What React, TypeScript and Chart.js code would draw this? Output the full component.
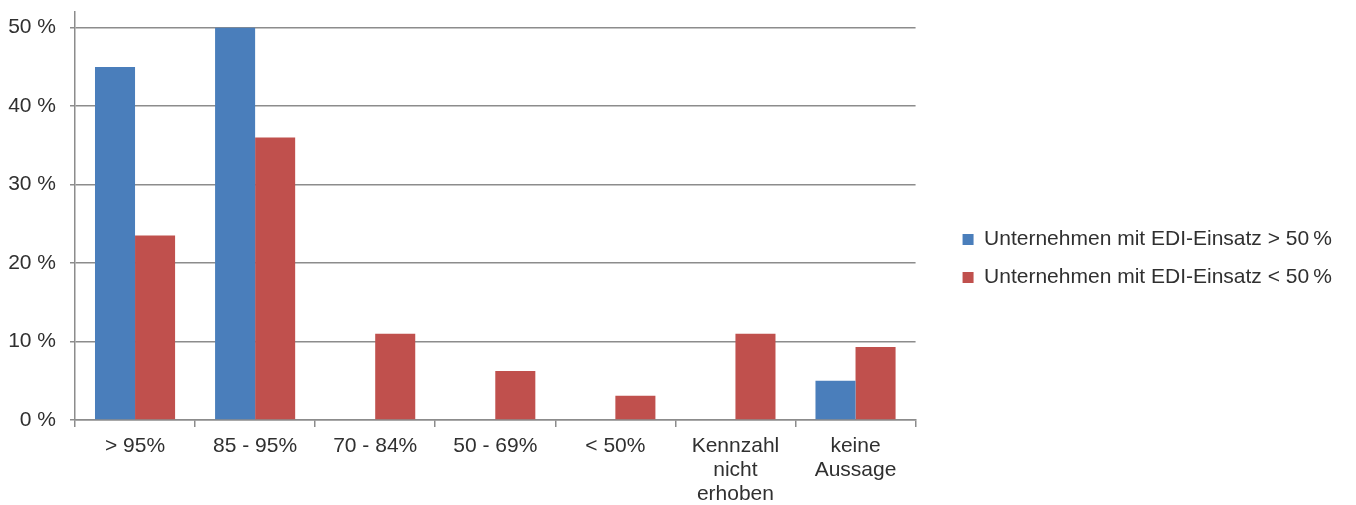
import React, { useEffect, useRef } from "react";
import { Chart, registerables } from "chart.js";

Chart.register(...registerables);

const categories: (string | string[])[] = [
  "> 95%",
  "85 - 95%",
  "70 - 84%",
  "50 - 69%",
  "< 50%",
  ["Kennzahl", "nicht", "erhoben"],
  ["keine", "Aussage"],
];

const seriesAbove = [45, 50, 0, 0, 0, 0, 5];
const seriesBelow = [23.5, 36, 11, 6.25, 3.1, 11, 9.3];

const seriesNames = [
  "Unternehmen mit EDI-Einsatz > 50\u2009%",
  "Unternehmen mit EDI-Einsatz < 50\u2009%",
];

const yTicks = [0, 10, 20, 30, 40, 50];

const FONT = "'Liberation Sans', Arial, sans-serif";
const TEXT = "#303030";
const GRID = "#8c8c8c";

// Pushes the legend to the right, leaving a gap between plot and legend.
const legendShift = {
  id: "legendShift",
  afterLayout(chart: any) {
    const lg = chart.legend;
    if (lg) {
      lg.left += 30;
      lg.right += 30;
    }
  },
};

export default function App() {
  const ref = useRef<HTMLCanvasElement | null>(null);

  useEffect(() => {
    if (!ref.current) return;
    const chart = new Chart(ref.current, {
      type: "bar",
      data: {
        labels: categories,
        datasets: [
          {
            label: seriesNames[0],
            data: seriesAbove,
            backgroundColor: "#4A7EBB",
            categoryPercentage: 0.667,
            barPercentage: 1,
          },
          {
            label: seriesNames[1],
            data: seriesBelow,
            backgroundColor: "#C0504D",
            categoryPercentage: 0.667,
            barPercentage: 1,
          },
        ],
      },
      plugins: [legendShift],
      options: {
        animation: false,
        responsive: false,
        maintainAspectRatio: false,
        layout: { padding: { top: 12, left: 8, right: 44, bottom: 0 } },
        plugins: {
          tooltip: { enabled: false },
          legend: {
            position: "right",
            maxWidth: 600,
            labels: {
              boxWidth: 11,
              boxHeight: 11,
              padding: 17,
              color: TEXT,
              font: { family: FONT, size: 21 },
            },
          },
        },
        scales: {
          x: {
            offset: true,
            afterFit: (scale: any) => {
              scale.height = 85;
              scale.paddingLeft = 0;
              scale.paddingRight = 0;
            },
            grid: {
              offset: true,
              drawOnChartArea: false,
              drawTicks: true,
              tickLength: 7,
              color: GRID,
              lineWidth: 1.5,
            },
            border: { display: true, color: GRID, width: 1.5 },
            ticks: {
              color: TEXT,
              padding: 7,
              maxRotation: 0,
              autoSkip: false,
              font: { family: FONT, size: 21, lineHeight: 1.143 },
            },
          },
          y: {
            min: 0,
            max: 52,
            afterBuildTicks: (scale: any) => {
              scale.ticks = yTicks.map((v) => ({ value: v }));
            },
            afterFit: (scale: any) => {
              scale.width = 67;
              scale.paddingTop = 0;
              scale.paddingBottom = 0;
            },
            grid: {
              color: GRID,
              lineWidth: 1.5,
              drawTicks: true,
              tickLength: 5,
            },
            border: { display: true, color: GRID, width: 1.5 },
            ticks: {
              color: TEXT,
              padding: 14,
              font: { family: FONT, size: 21 },
              callback: (v: any) => `${v} %`,
            },
          },
        },
      },
    });
    return () => chart.destroy();
  }, []);

  return (
    <div style={{ position: "fixed", left: 0, top: 0, width: 1356, height: 505, background: "#fff" }}>
      <canvas ref={ref} width={1356} height={505} />
    </div>
  );
}
